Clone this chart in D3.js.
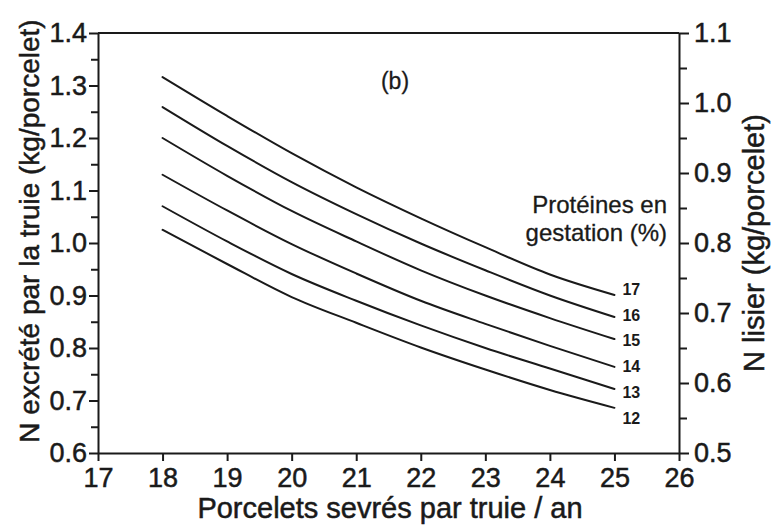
<!DOCTYPE html>
<html>
<head>
<meta charset="utf-8">
<script src="https://cdn.jsdelivr.net/npm/d3@7/dist/d3.min.js"></script>
<style>
  html, body { margin: 0; padding: 0; background: #fff; }
  svg { display: block; }
  text { font-family: "Liberation Sans", Arial, Helvetica, sans-serif; fill: #1a1a1a; }
</style>
</head>
<body>
<svg id="chart" width="772" height="528"></svg>
<script>
// ---- data ----
const xValues = [18, 19, 20, 21, 22, 23, 24, 25];
const proteinLevels = [17, 16, 15, 14, 13, 12];
const n17 = [1.316, 1.242, 1.171, 1.106, 1.047, 0.992, 0.940, 0.901];
const n16 = [1.259, 1.185, 1.116, 1.055, 0.999, 0.948, 0.900, 0.859];
const n15 = [1.200, 1.128, 1.061, 1.003, 0.948, 0.900, 0.857, 0.817];
const n14 = [1.130, 1.062, 0.998, 0.942, 0.890, 0.846, 0.804, 0.764];
const n13 = [1.070, 1.003, 0.941, 0.890, 0.843, 0.800, 0.761, 0.722];
const n12 = [1.025, 0.960, 0.897, 0.848, 0.801, 0.759, 0.720, 0.686];
const seriesValues = [n17, n16, n15, n14, n13, n12];
const xTicks = [17, 18, 19, 20, 21, 22, 23, 24, 25, 26];
const yLeftTicks = [0.6, 0.7, 0.8, 0.9, 1.0, 1.1, 1.2, 1.3, 1.4];
const yLeftMinor = [0.65, 0.75, 0.85, 0.95, 1.05, 1.15, 1.25, 1.35];
const yRightTicks = [0.5, 0.6, 0.7, 0.8, 0.9, 1.0, 1.1];
const yRightMinor = [0.55, 0.65, 0.75, 0.85, 0.95, 1.05];
const xTitle = "Porcelets sevrés par truie / an";
const yLeftTitle = "N excrété par la truie (kg/porcelet)";
const yRightTitle = "N lisier (kg/porcelet)";
const panelLabel = "(b)";
const legendTitle = ["Protéines en", "gestation (%)"];

// ---- layout ----
const L = 98, R = 679, T = 33, B = 453;
const ink = "#1a1a1a";
const svg = d3.select("#chart");
svg.append("rect").attr("width", 772).attr("height", 528).attr("fill", "#fff");

const x = d3.scaleLinear().domain([17, 26]).range([L, R]);
const yL = d3.scaleLinear().domain([0.6, 1.4]).range([B, T]);
const yR = d3.scaleLinear().domain([0.5, 1.1]).range([B, T]);

function heavy(sel, w) {
  return sel.attr("stroke", ink).attr("stroke-width", w).attr("paint-order", "stroke");
}
function styleAxis(g, fs) {
  g.selectAll("path.domain").attr("stroke", ink).attr("stroke-width", 2);
  g.selectAll(".tick line").attr("stroke", ink).attr("stroke-width", 2);
  const t = g.selectAll(".tick text").attr("font-size", fs).attr("fill", ink)
    .style("font-family", '"Liberation Sans", Arial, sans-serif');
  heavy(t, 0.5);
}

// top frame
svg.append("line").attr("x1", L).attr("x2", R).attr("y1", T).attr("y2", T)
  .attr("stroke", ink).attr("stroke-width", 2);

// bottom axis
const gx = svg.append("g").attr("transform", `translate(0,${B})`)
  .call(d3.axisBottom(x).tickValues(xTicks).tickFormat(d3.format("d"))
    .tickSize(8).tickSizeOuter(0).tickPadding(7));
styleAxis(gx, 27);

// left axis
const gyl = svg.append("g").attr("transform", `translate(${L},0)`)
  .call(d3.axisLeft(yL).tickValues(yLeftTicks).tickFormat(d3.format(".1f"))
    .tickSize(9).tickSizeOuter(0).tickPadding(2));
styleAxis(gyl, 27);
const gylm = svg.append("g").attr("transform", `translate(${L},0)`)
  .call(d3.axisLeft(yL).tickValues(yLeftMinor).tickFormat("").tickSize(7).tickSizeOuter(0));
gylm.select("path.domain").remove();
styleAxis(gylm, 27);

// right axis
const gyr = svg.append("g").attr("transform", `translate(${R},0)`)
  .call(d3.axisRight(yR).tickValues(yRightTicks).tickFormat(d3.format(".1f"))
    .tickSize(10).tickSizeOuter(0).tickPadding(5));
styleAxis(gyr, 27);
const gyrm = svg.append("g").attr("transform", `translate(${R},0)`)
  .call(d3.axisRight(yR).tickValues(yRightMinor).tickFormat("").tickSize(8).tickSizeOuter(0));
gyrm.select("path.domain").remove();
styleAxis(gyrm, 27);

// lines
const line = d3.line().x((d, i) => x(xValues[i])).y(d => yL(d)).curve(d3.curveMonotoneX);
svg.append("g").selectAll("path").data(seriesValues).join("path")
  .attr("d", d => line(d))
  .attr("fill", "none").attr("stroke", ink).attr("stroke-width", 2)
  .attr("stroke-linejoin", "round").attr("stroke-linecap", "round");

// series labels
svg.append("g").selectAll("text").data(proteinLevels).join("text")
  .attr("x", x(25) + 8)
  .attr("y", (d, i) => 289 + i * 25.8)
  .attr("dy", "0.36em")
  .attr("font-size", 16).attr("font-weight", "bold")
  .text(d => d);

// legend title
heavy(svg.append("g").selectAll("text").data(legendTitle).join("text")
  .attr("x", 667).attr("y", (d, i) => 213 + i * 28)
  .attr("text-anchor", "end").attr("font-size", 24)
  .text(d => d), 0.3);

// panel label
heavy(svg.append("text").attr("x", 395).attr("y", 89).attr("text-anchor", "middle")
  .attr("font-size", 23).text(panelLabel), 0.3);

// axis titles
heavy(svg.append("text").attr("x", 390).attr("y", 518)
  .attr("text-anchor", "middle").attr("font-size", 29).text(xTitle), 0.5);
heavy(svg.append("text").attr("transform", `translate(39,231) rotate(-90)`)
  .attr("text-anchor", "middle").attr("font-size", 28).text(yLeftTitle), 0.5);
heavy(svg.append("text").attr("transform", `translate(764,243) rotate(-90)`)
  .attr("text-anchor", "middle").attr("font-size", 29).text(yRightTitle), 0.5);
</script>
</body>
</html>
